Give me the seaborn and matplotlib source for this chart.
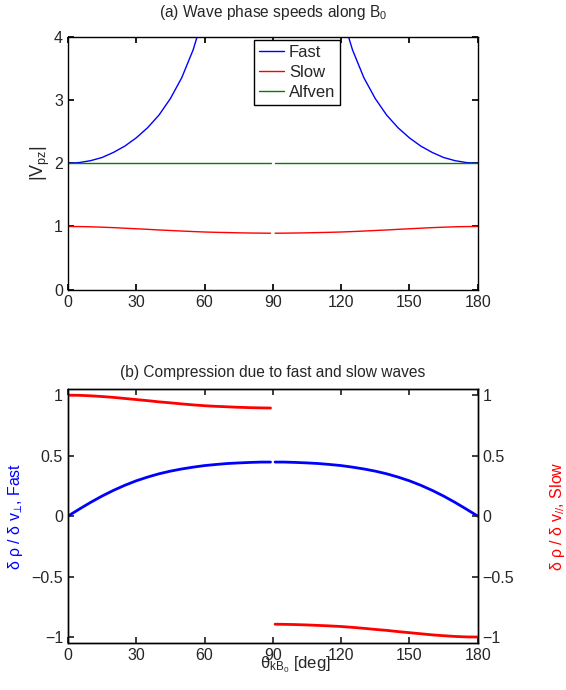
import numpy as np
import pandas as pd
import matplotlib
matplotlib.use("Agg")
import matplotlib.pyplot as plt
import seaborn as sns

# angles (deg), gap around 90 as in the reference
theta_left = [0, 5, 10, 15, 20, 25, 30, 35, 40, 45, 50, 55, 60, 65, 70, 75, 80, 85, 89]
theta_right = [91, 95, 100, 105, 110, 115, 120, 125, 130, 135, 140, 145, 150, 155, 160, 165, 170, 175, 180]

# (a) |V_pz|
fast_left = [2.00, 2.01, 2.04, 2.09, 2.17, 2.27, 2.40, 2.56, 2.76, 3.02, 3.35, 3.79, 4.38, 5.21,
             np.nan, np.nan, np.nan, np.nan, np.nan]
fast_right = [np.nan, np.nan, np.nan, np.nan, np.nan, 5.21, 4.38, 3.79, 3.35, 3.02, 2.76, 2.56,
              2.40, 2.27, 2.17, 2.09, 2.04, 2.01, 2.00]
slow_left = [1.000, 0.999, 0.995, 0.989, 0.982, 0.973, 0.964, 0.955, 0.945, 0.937, 0.928, 0.920,
             0.913, 0.908, 0.904, 0.900, 0.897, 0.895, 0.894]
slow_right = [0.894, 0.895, 0.897, 0.900, 0.904, 0.908, 0.913, 0.920, 0.928, 0.937, 0.945, 0.955,
              0.964, 0.973, 0.982, 0.989, 0.995, 0.999, 1.000]
alfven_left = [2.0] * 19
alfven_right = [2.0] * 19

# (b) compression
comp_fast_left = [0.000, 0.058, 0.114, 0.166, 0.213, 0.255, 0.292, 0.323, 0.350, 0.372, 0.390,
                  0.405, 0.418, 0.427, 0.435, 0.440, 0.444, 0.447, 0.447]
comp_fast_right = [0.447, 0.447, 0.444, 0.440, 0.435, 0.427, 0.418, 0.405, 0.390, 0.372, 0.350,
                   0.323, 0.292, 0.255, 0.213, 0.166, 0.114, 0.058, 0.000]
comp_slow_left = [1.000, 0.999, 0.995, 0.989, 0.982, 0.973, 0.964, 0.955, 0.945, 0.937, 0.928,
                  0.920, 0.913, 0.908, 0.904, 0.900, 0.897, 0.895, 0.894]
comp_slow_right = [-0.894, -0.895, -0.897, -0.900, -0.904, -0.908, -0.913, -0.920, -0.928, -0.937,
                   -0.945, -0.955, -0.964, -0.973, -0.982, -0.989, -0.995, -0.999, -1.000]

x_ticks = [0, 30, 60, 90, 120, 150, 180]

sns.set_theme(style="ticks")
plt.rcParams['font.family'] = ['Liberation Sans', 'DejaVu Sans']
plt.rcParams['mathtext.default'] = 'regular'
plt.rcParams['xtick.direction'] = 'in'
plt.rcParams['ytick.direction'] = 'in'
plt.rcParams['xtick.major.size'] = 4
plt.rcParams['ytick.major.size'] = 4
plt.rcParams['axes.linewidth'] = 1.0
plt.rcParams['font.size'] = 11

fig = plt.figure(figsize=(5.66, 6.90), dpi=100)
ax1 = fig.add_axes([0.120, 0.580, 0.724, 0.367])
ax2 = fig.add_axes([0.120, 0.068, 0.724, 0.368])

BLUE, RED, GREEN = '#0000ff', '#ff0000', '#008000'


def seg(ax, th, vals, color, lw, label=None):
    d = pd.DataFrame({'theta': th, 'v': vals}).dropna()
    sns.lineplot(data=d, x='theta', y='v', ax=ax, color=color, lw=lw, label=label,
                 legend=label is not None, sort=False)


# top panel
seg(ax1, theta_left, fast_left, BLUE, 1.0, 'Fast')
seg(ax1, theta_right, fast_right, BLUE, 1.0)
seg(ax1, theta_left, slow_left, RED, 1.0, 'Slow')
seg(ax1, theta_right, slow_right, RED, 1.0)
seg(ax1, theta_left, alfven_left, GREEN, 1.0, 'Alfven')
seg(ax1, theta_right, alfven_right, GREEN, 1.0)
ax1.set_xlim(0, 180)
ax1.set_ylim(0, 4)
ax1.set_xticks(x_ticks)
ax1.set_yticks([0, 1, 2, 3, 4])
ax1.tick_params(top=True, right=True, labelsize=11.5, color='black')
ax1.set_xlabel('')
ax1.set_ylabel('|V$_{pz}$|', fontsize=13, va='center')
ax1.yaxis.set_label_coords(-0.066, 0.5)
ax1.set_title('(a) Wave phase speeds along B$_0$', fontsize=11.2, pad=14)
leg = ax1.legend(loc='upper left', bbox_to_anchor=(0.454, 0.988), fontsize=12,
                 fancybox=False, framealpha=1, edgecolor='black', handlelength=1.5,
                 borderpad=0.3, labelspacing=0.3, handletextpad=0.3, borderaxespad=0)
leg.get_frame().set_linewidth(1.0)

# bottom panel
seg(ax2, theta_left, comp_fast_left, BLUE, 2.0)
seg(ax2, theta_right, comp_fast_right, BLUE, 2.0)
ax2r = ax2.twinx()
seg(ax2r, theta_left, comp_slow_left, RED, 2.0)
seg(ax2r, theta_right, comp_slow_right, RED, 2.0)
for a in (ax2, ax2r):
    a.set_xlim(0, 180)
    a.set_ylim(-1.05, 1.05)
    a.set_yticks([-1, -0.5, 0, 0.5, 1])
    a.set_yticklabels(['\u22121', '\u22120.5', '0', '0.5', '1'])
ax2.set_xticks(x_ticks)
ax2.tick_params(top=True, labelsize=11.5)
ax2r.tick_params(labelsize=11.5)
ax2.set_ylabel('\u03b4 \u03c1 / \u03b4 v$_{\u22a5}$, Fast', color=BLUE, fontsize=11.5, va='center')
ax2.yaxis.set_label_coords(-0.129, 0.5)
ax2r.set_ylabel('\u03b4 \u03c1 / \u03b4 v$_{//}$, Slow', color=RED, fontsize=11.5, va='center',
                rotation=90)
ax2r.yaxis.set_label_coords(1.195, 0.5)
ax2.set_xlabel('\u03b8$_{kB_0}$ [deg]', fontsize=12, va='center')
ax2.xaxis.set_label_coords(0.554, -0.087)
ax2r.set_xlabel('')
ax2.set_title('(b) Compression due to fast and slow waves', fontsize=11.2, pad=9)

for a in (ax1, ax2, ax2r):
    for s in a.spines.values():
        s.set_color('black')

fig.savefig('out.png', dpi=100)
